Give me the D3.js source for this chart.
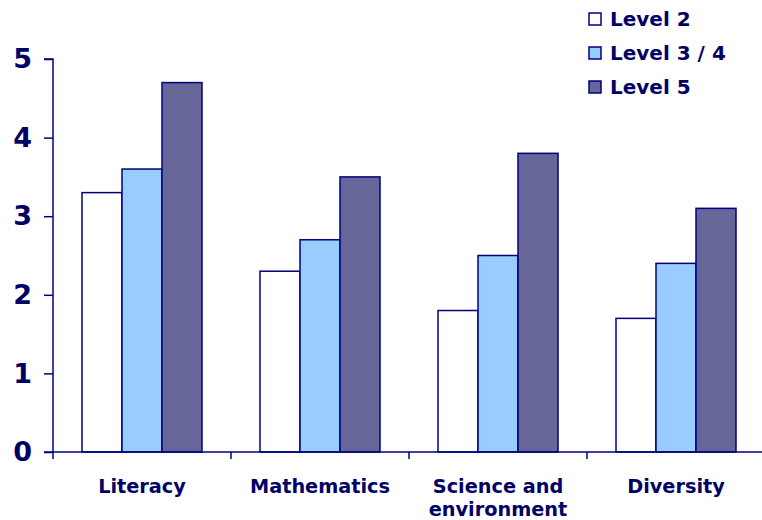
<!DOCTYPE html>
<html><head><meta charset="utf-8">
<script src="https://cdn.jsdelivr.net/npm/d3@7"></script>
<style>body{margin:0;background:#fff}svg{display:block}</style>
</head><body>
<svg id="c" width="762" height="520"></svg>
<script>
const categories = ["Literacy", "Mathematics", "Science and environment", "Diversity"];
const categoryLines = [["Literacy"], ["Mathematics"], ["Science and", "environment"], ["Diversity"]];
const seriesNames = ["Level 2", "Level 3 / 4", "Level 5"];
const level2 = [3.3, 2.3, 1.8, 1.7];
const level34 = [3.6, 2.7, 2.5, 2.4];
const level5 = [4.7, 3.5, 3.8, 3.1];
const yTicks = [0, 1, 2, 3, 4, 5];
const colors = ["#FFFFFF", "#99CCFF", "#666699"];

(function () {
const series = [level2, level34, level5];
const svg = d3.select("#c");
const navy = "#000066";
const mL = 53, mR = 765, mT = 59, mB = 452;
const font = "'DejaVu Sans', Verdana, sans-serif";

const x = d3.scaleBand().domain(categories).range([mL, mR]).paddingInner(0).paddingOuter(0);
const inner = d3.scaleBand().domain(d3.range(series.length)).range([29, x.bandwidth() - 29]);
const y = d3.scaleLinear().domain([0, 5]).range([mB, mT]);

categories.forEach((c, i) => {
  series.forEach((s, k) => {
    svg.append("rect")
      .attr("x", x(c) + inner(k))
      .attr("y", y(s[i]))
      .attr("width", inner.bandwidth())
      .attr("height", y(0) - y(s[i]))
      .attr("fill", colors[k])
      .attr("stroke", "#000080")
      .attr("stroke-width", 1.5);
  });
});

const ya = svg.append("g").attr("transform", `translate(${mL},0)`)
  .call(d3.axisLeft(y).tickValues(yTicks).tickSize(9).tickPadding(12).tickFormat(d3.format("d")));
ya.select(".domain").attr("stroke", "#000080").attr("stroke-width", 1.5).attr("d", `M-9,${mT}H0V${mB}H-9`);
ya.selectAll(".tick line").attr("stroke", "#000080").attr("stroke-width", 1.5);
ya.selectAll(".tick text").attr("fill", navy).attr("font-family", font).attr("font-weight", "bold").attr("font-size", 27);

const xa = svg.append("g").attr("transform", `translate(0,${mB})`);
xa.append("line").attr("x1", mL).attr("x2", mR).attr("y1", 0).attr("y2", 0).attr("stroke", "#000080").attr("stroke-width", 1.5);
const bounds = categories.map(c => x(c)).concat([mR]);
xa.selectAll("line.t").data(bounds).enter().append("line").attr("class", "t")
  .attr("x1", d => d).attr("x2", d => d).attr("y1", 0).attr("y2", 7)
  .attr("stroke", "#000080").attr("stroke-width", 1.5);
categories.forEach((c, i) => {
  const t = xa.append("text").attr("text-anchor", "middle").attr("fill", navy)
    .attr("font-family", font).attr("font-weight", "bold").attr("font-size", 19.3);
  categoryLines[i].forEach((ln, j) => {
    t.append("tspan").attr("x", x(c) + x.bandwidth() / 2).attr("y", 41 + j * 23).text(ln);
  });
});

seriesNames.forEach((n, k) => {
  const g = svg.append("g").attr("transform", `translate(589,${19 + k * 34})`);
  g.append("rect").attr("x", 0).attr("y", -6).attr("width", 12).attr("height", 12)
    .attr("fill", colors[k]).attr("stroke", "#000080").attr("stroke-width", 1.5);
  g.append("text").attr("x", 21).attr("y", 7).attr("fill", navy).attr("font-family", font)
    .attr("font-weight", "bold").attr("font-size", 20).text(n);
});
})();
</script>
</body></html>
